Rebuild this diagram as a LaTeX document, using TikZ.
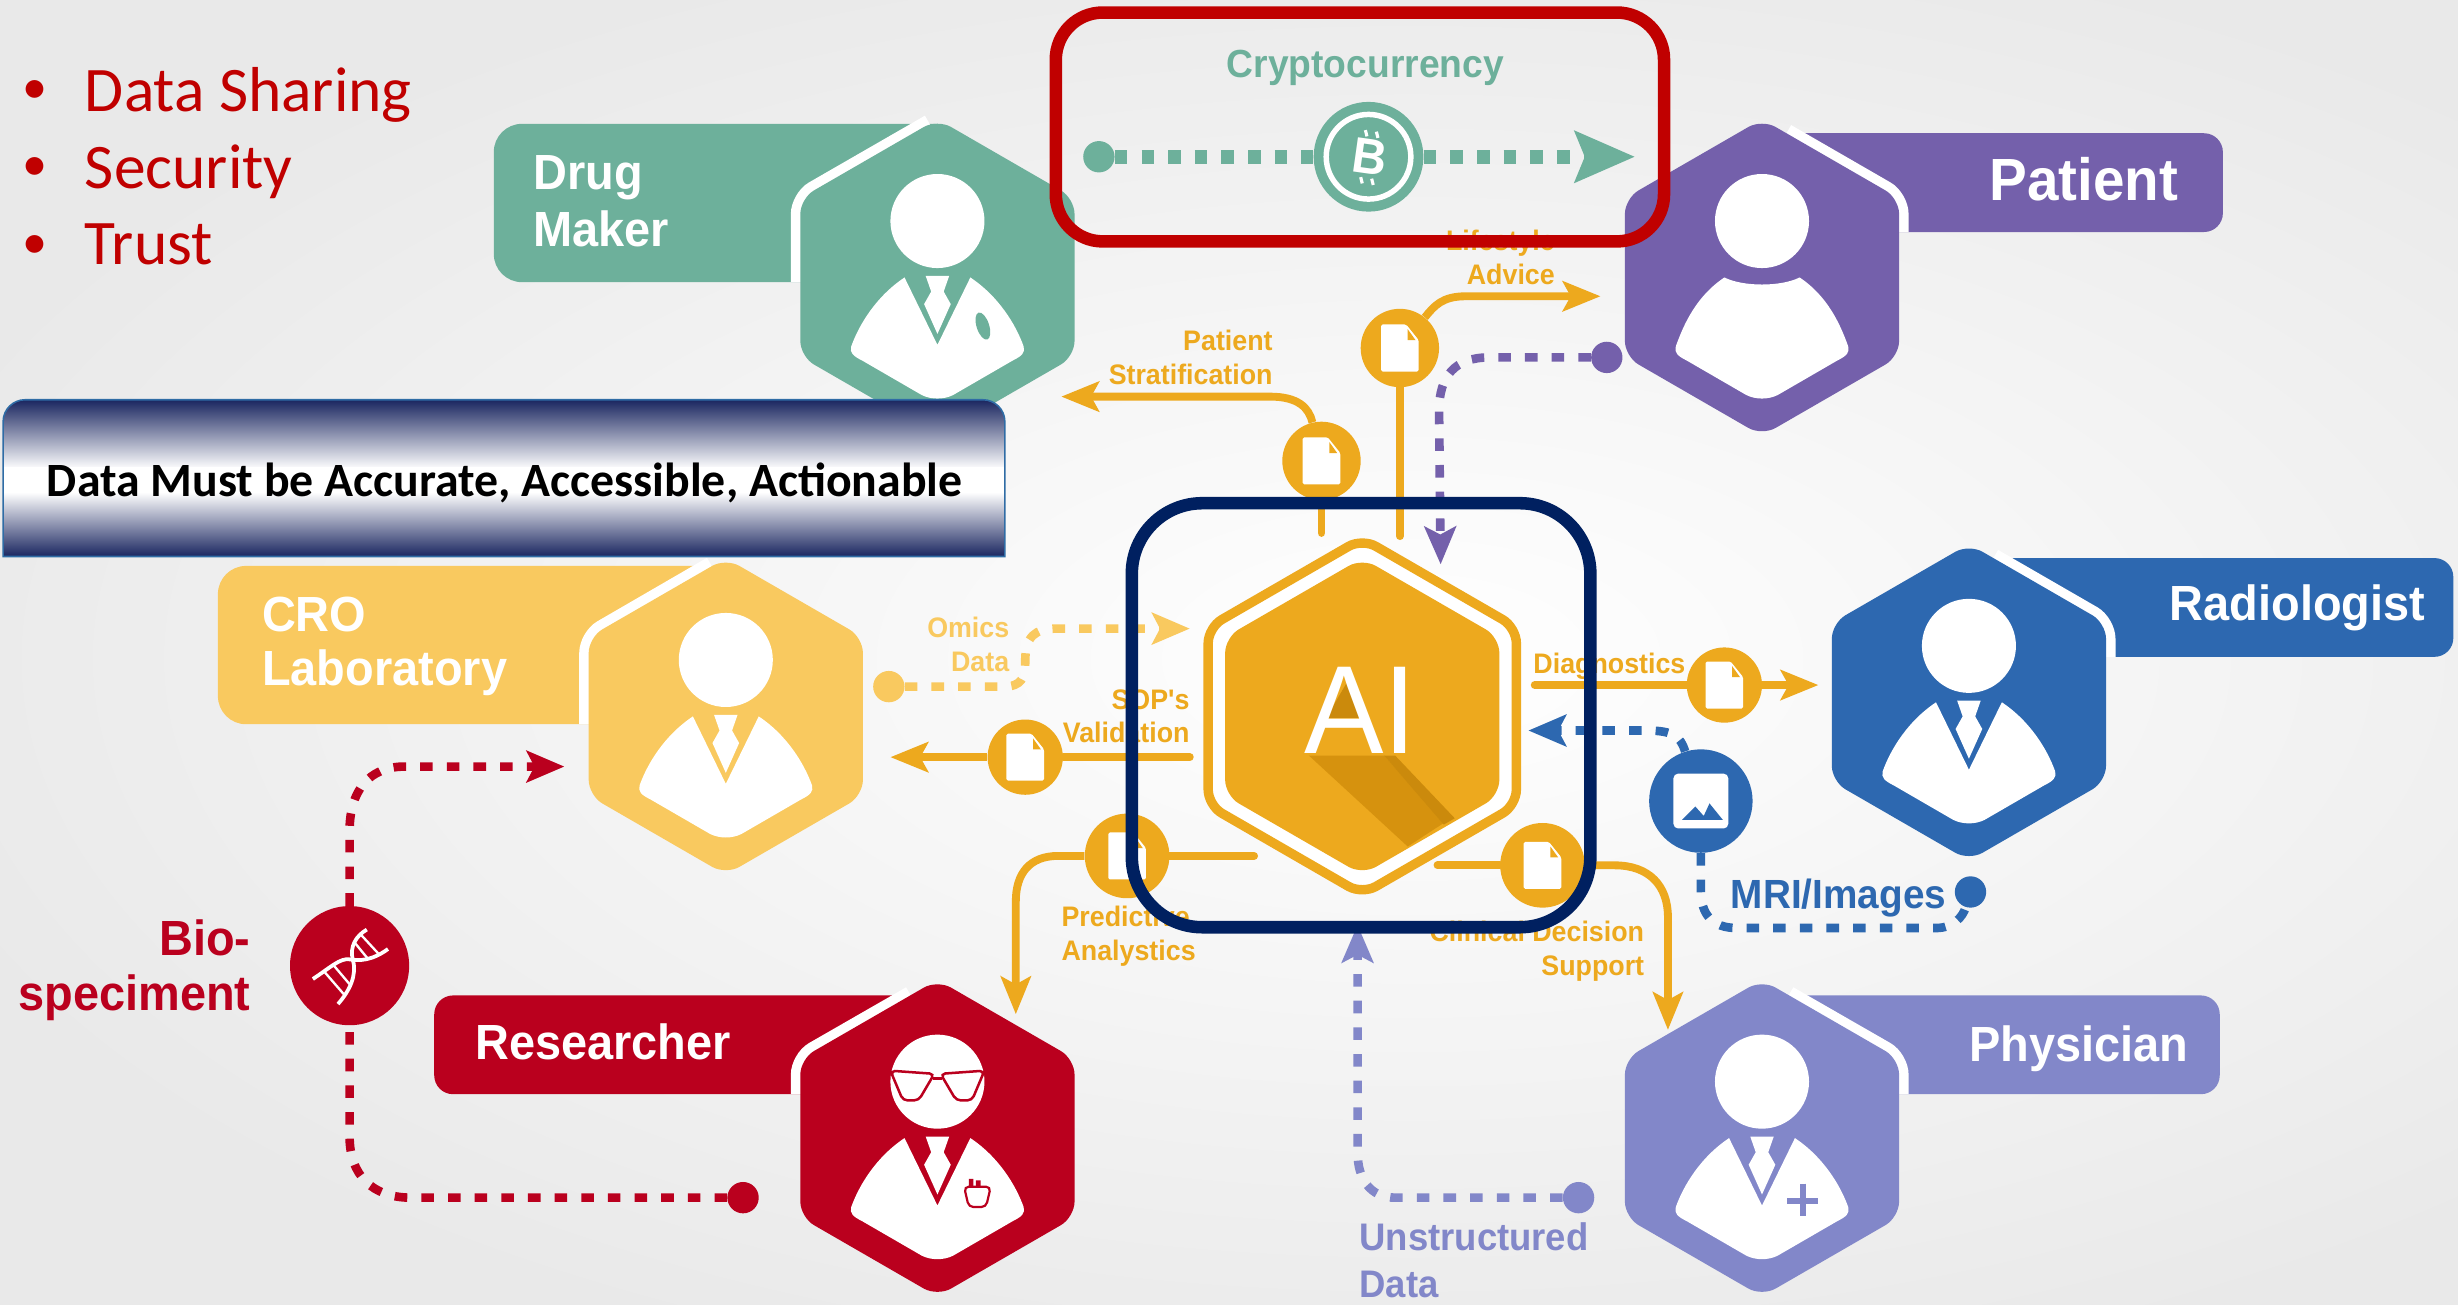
\documentclass[tikz,border=0pt]{standalone}
\usepackage{fontspec}
\setmainfont{Carlito}
\newfontfamily\labelfont[FakeStretch=0.95]{Liberation Sans}
\usetikzlibrary{arrows.meta,shapes.geometric}

\definecolor{drugcolor}{HTML}{6DB09B}
\definecolor{patientcolor}{HTML}{7460AB}
\definecolor{radiocolor}{HTML}{2D68B0}
\definecolor{physiciancolor}{HTML}{8287C9}
\definecolor{researchcolor}{HTML}{BA001E}
\definecolor{crocolor}{HTML}{F9C95F}
\definecolor{aicolor}{HTML}{EDA91E}
\definecolor{aishade}{HTML}{D6920E}
\definecolor{aidark}{HTML}{CB8A0C}
\definecolor{bgedge}{HTML}{E9E9E9}
\definecolor{cryptored}{HTML}{C00000}
\definecolor{framenavy}{HTML}{002060}
\definecolor{barnavy}{HTML}{1A2660}
\definecolor{barline}{HTML}{2F6CA5}

% head and coat, origin at the middle of the hexagon
\newcommand{\doctorbody}[1]{
  \begin{scope}[shift={(#1)}]
    \fill[white] (0,-36) ellipse (30pt and 30pt);
    \fill[white] (-21,0) .. controls (-39,12) and (-50,30) .. (-55,44) .. controls (-56,48) and (-54,50) .. (-48,53) -- (-10,75) .. controls (-4,78) and (4,78) .. (10,75) -- (48,53) .. controls (54,50) and (56,48) .. (55,44) .. controls (50,30) and (39,12) .. (21,0) -- (0,43) -- cycle;
    \fill[white] (-7.5,-1) -- (7.5,-1) -- (4,9) -- (8.5,17) -- (0,36) -- (-8.5,17) -- (-4,9) -- cycle;
  \end{scope}
}
\newcommand{\patientbody}[1]{
  \begin{scope}[shift={(#1)}]
    \fill[white] (0,-36) ellipse (30pt and 30pt);
    \fill[white] (-24,0) .. controls (-12,6) and (12,6) .. (24,0) .. controls (42,12) and (50,30) .. (55,44) .. controls (56,48) and (54,50) .. (48,53) -- (10,75) .. controls (4,78) and (-4,78) .. (-10,75) -- (-48,53) .. controls (-54,50) and (-56,48) .. (-55,44) .. controls (-50,30) and (-42,12) .. (-24,0) -- cycle;
  \end{scope}
}
\newcommand{\docicon}[1]{
  \begin{scope}[shift={(#1)}]
    \fill[white,rounded corners=1pt] (-12,-15) -- (4,-15) -- (12,-5) -- (12,15) -- (-12,15) -- cycle;
    \fill[aicolor] (5,-12) -- (10,-5) -- (5,-5) -- cycle;
  \end{scope}
}

\begin{document}
\begin{tikzpicture}[x=1pt,y=-1pt]
        \tikzstyle{hexnode}=[regular polygon,regular polygon sides=6,shape border rotate=30,minimum size=202pt,inner sep=0pt,rounded corners=10pt]
        \tikzstyle{gapline}=[white,line width=12pt,rounded corners=10pt]
        \tikzstyle{filenode}=[circle,fill=aicolor,minimum size=50pt,inner sep=0pt]
        \tikzstyle{dotnode}=[circle,minimum size=20pt,inner sep=0pt]
        \tikzstyle{tagtext}=[text=white,inner sep=0pt,anchor=base west,font=\labelfont\bfseries\fontsize{31.5}{36}\selectfont]
        \tikzstyle{flowtext}=[inner sep=0pt,font=\labelfont\bfseries\fontsize{18}{21.5}\selectfont]
        \tikzstyle{bullettext}=[text=cryptored,inner sep=0pt,anchor=base west,font=\fontsize{40.5}{44}\selectfont]
        \tikzstyle{bulletmark}=[text=cryptored,inner sep=0pt,anchor=base west,font=\fontsize{32}{36}\selectfont]
        \tikzstyle{solidlink}=[line width=5pt,-{Stealth[length=24pt,width=19pt,inset=5pt]}]
        \tikzstyle{solidstem}=[line width=5pt,line cap=round]
        \tikzstyle{dashlink}=[line width=5.5pt,dash pattern=on 8pt off 9pt]
        \tikzstyle{dashtip}=[-{Stealth[length=24pt,width=20pt,inset=5pt]}]

        \clip (0,0) rectangle (1568,832);
        \fill[inner color=white,outer color=bgedge] (-100,-60) rectangle (1900,900);

        % tags behind the hexagons
        \fill[drugcolor] (598,79) [rounded corners=18pt] -- (315,79) -- (315,180) [sharp corners] -- (598,180) -- cycle;
        \fill[patientcolor] (1124,85) [rounded corners=12pt] -- (1418,85) -- (1418,148) [sharp corners] -- (1124,148) -- cycle;
        \fill[crocolor] (463,361) [rounded corners=18pt] -- (139,361) -- (139,462) [sharp corners] -- (463,462) -- cycle;
        \fill[radiocolor] (1256,356) [rounded corners=12pt] -- (1565,356) -- (1565,419) [sharp corners] -- (1256,419) -- cycle;
        \fill[researchcolor] (598,635) [rounded corners=12pt] -- (277,635) -- (277,698) [sharp corners] -- (598,698) -- cycle;
        \fill[physiciancolor] (1124,635) [rounded corners=12pt] -- (1416,635) -- (1416,698) [sharp corners] -- (1124,698) -- cycle;

        \draw[gapline] (593,79) -- (510.5,126.5) -- (510.5,180);
        \draw[gapline] (1139.6,85) -- (1211.5,126.5) -- (1211.5,148);
        \draw[gapline] (454,361) -- (375.5,406.5) -- (375.5,462);
        \draw[gapline] (1271.6,356) -- (1343.5,397.5) -- (1343.5,419);
        \draw[gapline] (581,635) -- (510.5,675.5) -- (510.5,698);
        \draw[gapline] (1141,635) -- (1211.5,675.5) -- (1211.5,698);

        \node[hexnode,fill=drugcolor] (drughex) at (598,177) {};
        \node[hexnode,fill=patientcolor] (patienthex) at (1124,177) {};
        \node[hexnode,fill=crocolor] (crohex) at (463,457) {};
        \node[hexnode,fill=radiocolor] (radiohex) at (1256,448) {};
        \node[hexnode,fill=researchcolor] (researchhex) at (598,726) {};
        \node[hexnode,fill=physiciancolor] (physicianhex) at (1124,726) {};

        \doctorbody{drughex}
        \patientbody{patienthex}
        \doctorbody{crohex}
        \doctorbody{radiohex}
        \doctorbody{researchhex}
        \doctorbody{physicianhex}

        \fill[drugcolor,rotate around={18:(627,208)}] (627,208) ellipse (4pt and 9pt);
        \draw[physiciancolor,line width=4pt] (1150,755) -- (1150,776) (1140,766) -- (1160,766);
        \begin{scope}[shift={(researchhex)}]
            \draw[researchcolor,line width=1.6pt,rounded corners=3pt] (-30,-43) -- (-2,-41) -- (-12,-24) -- (-22,-24) -- cycle;
            \draw[researchcolor,line width=1.6pt,rounded corners=3pt] (30,-43) -- (2,-41) -- (12,-24) -- (22,-24) -- cycle;
            \draw[researchcolor,line width=1.6pt] (-3,-38) -- (3,-38);
            \draw[researchcolor,line width=1.4pt,rounded corners=3pt] (17,31) -- (34,31) -- (31,44) -- (20,44) -- cycle;
            \fill[researchcolor] (20,26) rectangle (23,31) (24.5,27) rectangle (27.5,31);
        \end{scope}

        % centre hexagon
        \node[hexnode,minimum size=227pt,draw=aicolor,fill=white,line width=6pt] (aiframe) at (869,457) {};
        \node[hexnode,fill=aicolor] (aihex) at (869,457) {};
        \fill[aishade] (835,482) -- (898,540) -- (921,525) -- (883,482) -- cycle;
        \fill[aidark] (890,482) -- (928,522) -- (921,526) -- (883,482) -- cycle;
        \fill[aidark] (860,434) -- (846,458) -- (868,458) -- cycle;
        \node[text=white,inner sep=0pt,font=\labelfont\fontsize{80}{80}\selectfont] (ailabel) at (868,453) {AI};

        % free ends
        \coordinate (cryptoend) at (1043,100);
        \coordinate (stratend) at (677,253);
        \coordinate (stratstart) at (843,340);
        \coordinate (lifeend) at (1021,189);
        \coordinate (lifestart) at (893,342);
        \coordinate (patientend) at (919,360);
        \coordinate (diagstart) at (979,437);
        \coordinate (diagend) at (1160,437);
        \coordinate (sopstart) at (759,483);
        \coordinate (sopend) at (568,483);
        \coordinate (omicsend) at (759,401);
        \coordinate (predstart) at (800,546);
        \coordinate (predend) at (648,647);
        \coordinate (clinstart) at (917,552);
        \coordinate (clinend) at (1064,657);
        \coordinate (mriend) at (975,466);
        \coordinate (unstructend) at (866,590);
        \coordinate (bioend) at (360,489);

        % nodes on the connectors
        \node[filenode] (stratdoc) at (843,294) {};
        \node[filenode] (lifedoc) at (893,222) {};
        \node[filenode,minimum size=48pt] (diagdoc) at (1100,437) {};
        \node[filenode,minimum size=48pt] (sopdoc) at (654,483) {};
        \node[filenode,minimum size=54pt] (preddoc) at (719,546) {};
        \node[filenode,minimum size=54pt] (clindoc) at (984,552) {};
        \node[circle,fill=radiocolor,minimum size=66pt,inner sep=0pt] (mricircle) at (1085,511) {};
        \node[circle,fill=researchcolor,minimum size=76pt,inner sep=0pt] (biocircle) at (223,616) {};
        \node[circle,fill=drugcolor,minimum size=70pt,inner sep=0pt] (coin) at (873,100) {};
        \node[dotnode,fill=drugcolor] (cryptodot) at (701,100) {};
        \node[dotnode,fill=patientcolor] (patientdot) at (1025,228) {};
        \node[dotnode,fill=crocolor] (omicsdot) at (567,438) {};
        \node[dotnode,fill=radiocolor] (mridot) at (1257,569) {};
        \node[dotnode,fill=physiciancolor] (unstructdot) at (1007,764) {};
        \node[dotnode,fill=researchcolor] (biodot) at (474,764) {};

        % connectors
        \draw[dashlink,drugcolor,line width=9pt] (cryptodot) -- (coin);
        \draw[dashlink,drugcolor,line width=9pt,-{Stealth[length=38pt,width=32pt,inset=6pt]}] (coin) -- (cryptoend);
        \draw[solidstem,aicolor] (stratstart) -- (stratdoc);
        \draw[solidlink,aicolor] (stratdoc) .. controls (835,260) and (828,253) .. (810,253) -- (stratend);
        \draw[solidstem,aicolor] (lifestart) -- (lifedoc);
        \draw[solidlink,aicolor] (lifedoc) .. controls (915,195) and (920,189) .. (935,189) -- (lifeend);
        \draw[dashlink,dashtip,patientcolor] (patientdot) -- (950,228) .. controls (928,228) and (918,240) .. (918,262) -- (patientend);
        \draw[solidstem,aicolor] (diagstart) -- (diagdoc);
        \draw[solidlink,aicolor] (diagdoc) -- (diagend);
        \draw[solidstem,aicolor] (sopstart) -- (sopdoc);
        \draw[solidlink,aicolor] (sopdoc) -- (sopend);
        \draw[dashlink,dashtip,crocolor] (omicsdot) -- (640,438) .. controls (652,438) and (654,432) .. (654,422) .. controls (654,406) and (660,401) .. (674,401) -- (omicsend);
        \draw[solidstem,aicolor] (predstart) -- (preddoc);
        \draw[solidlink,aicolor] (preddoc) -- (675,546) .. controls (657,546) and (648,557) .. (648,575) -- (predend);
        \draw[solidstem,aicolor] (clinstart) -- (clindoc);
        \draw[solidlink,aicolor] (clindoc) -- (1030,552) .. controls (1052,552) and (1064,565) .. (1064,585) -- (clinend);
        \draw[dashlink,dashtip,radiocolor] (mricircle) .. controls (1072,470) and (1068,466) .. (1050,466) -- (mriend);
        \draw[dashlink,radiocolor] (mricircle) -- (1085,568) .. controls (1085,583) and (1092,592) .. (1108,592) -- (1235,592) .. controls (1246,592) and (1252,585) .. (mridot);
        \draw[dashlink,dashtip,physiciancolor] (unstructdot) -- (890,764) .. controls (874,764) and (866,752) .. (866,735) -- (unstructend);
        \draw[dashlink,researchcolor] (biodot) -- (262,764) .. controls (238,764) and (223,750) .. (223,725) -- (biocircle);
        \draw[dashlink,dashtip,researchcolor] (biocircle) -- (223,530) .. controls (223,505) and (235,489) .. (258,489) -- (bioend);

        \docicon{stratdoc}
        \docicon{lifedoc}
        \docicon{diagdoc}
        \docicon{sopdoc}
        \docicon{preddoc}
        \docicon{clindoc}

        % picture in the blue circle
        \begin{scope}[shift={(mricircle)}]
            \fill[white,rounded corners=3pt] (-17.5,-17.5) rectangle (17.5,17.5);
            \fill[radiocolor] (-12,12) -- (-3.5,3.5) -- (4,12) -- cycle (0.7,12) -- (5.5,1.5) -- (14,12) -- cycle;
        \end{scope}

        % helix in the red circle
        \begin{scope}[shift={(biocircle)}]
            \draw[white,line width=2.4pt] (-23.4,8.5) .. controls (-12,1) and (-6,-5) .. (0,-4) .. controls (6,-3) and (14,-3) .. (24.5,-10.6);
            \draw[white,line width=2.4pt] (-7.4,24.5) .. controls (0,16) and (5,6) .. (2,-4) .. controls (0,-12) and (4,-19) .. (11,-23);
            \draw[white,line width=1.5pt] (-16,4) -- (-3,19) (-10,0) -- (1,13) (3,-15) -- (12,-4) (7,-20) -- (19,-7);
        \end{scope}

        % coin
        \draw[white,line width=3.5pt] (coin.center) circle (27pt);
        \node[text=white,inner sep=0pt,rotate=-8,font=\labelfont\bfseries\fontsize{32}{32}\selectfont] (coinmark) at (874,100) {B};
        \draw[white,line width=2pt] (871,83) -- (872,87) (878,84) -- (879,88) (868,113) -- (869,117) (875,114) -- (876,118);

        % names on the tags
        \node[tagtext] (drugname) at (340,121) {Drug};
        \node[tagtext] (makername) at (340,157) {Maker};
        \node[tagtext,font=\labelfont\bfseries\fontsize{38}{40}\selectfont] (patientname) at (1269,128) {Patient};
        \node[tagtext] (croname) at (167,403) {CRO};
        \node[tagtext] (labname) at (167,437) {Laboratory};
        \node[tagtext] (radioname) at (1384,396) {Radiologist};
        \node[tagtext] (researchname) at (303,676) {Researcher};
        \node[tagtext] (physicianname) at (1256,677) {Physician};

        % labels of the flows
        \node[flowtext,text=drugcolor,font=\labelfont\bfseries\fontsize{25}{25}\selectfont] (cryptolabel) at (871,43) {Cryptocurrency};
        \node[flowtext,text=aicolor,anchor=east,align=right] (stratlabel) at (812,228) {Patient\\Stratification};
        \node[flowtext,text=aicolor,anchor=east,align=right] (lifelabel) at (992,164) {Lifestyle\\Advice};
        \node[flowtext,text=crocolor,anchor=east,align=right] (omicslabel) at (644,411) {Omics\\Data};
        \node[flowtext,text=aicolor,anchor=east,align=right] (soplabel) at (759,457) {SOP's\\Validation};
        \node[flowtext,text=aicolor,anchor=west] (diaglabel) at (978,425) {Diagnostics};
        \node[flowtext,text=aicolor,anchor=west,align=left] (predlabel) at (677,597) {Predictive\\Analystics};
        \node[flowtext,text=aicolor,anchor=east,align=right] (clinlabel) at (1049,607) {Clinical Decision\\Support};
        \node[flowtext,text=radiocolor,anchor=west,font=\labelfont\bfseries\fontsize{26}{26}\selectfont] (mrilabel) at (1104,573) {MRI/Images};
        \node[flowtext,text=physiciancolor,anchor=west,align=left,font=\labelfont\bfseries\fontsize{24.5}{30}\selectfont] (unstructlabel) at (867,804) {Unstructured\\Data};
        \node[flowtext,text=researchcolor,anchor=east,align=right,font=\labelfont\bfseries\fontsize{31.5}{35}\selectfont] (biolabel) at (160,619) {Bio-\\speciment};

        % bullets
        \node[bulletmark] (bulleta) at (14,66) {•};
        \node[bullettext] (sharing) at (54,71) {Data Sharing};
        \node[bulletmark] (bulletb) at (14,115) {•};
        \node[bullettext] (security) at (54,120) {Security};
        \node[bulletmark] (bulletc) at (14,165) {•};
        \node[bullettext] (trust) at (54,169) {Trust};

        % banner and the two frames on top
        \shade[top color=barnavy,bottom color=white] (2,299) [rounded corners=14pt] -- (2,255) -- (641,255) [sharp corners] -- (641,299) -- cycle;
        \fill[white] (2,298) rectangle (641,315);
        \shade[top color=white,bottom color=barnavy] (2,314) rectangle (641,355);
        \draw[barline,line width=1pt] (2,355) [rounded corners=14pt] -- (2,255) -- (641,255) [sharp corners] -- (641,355) -- cycle;
        \node[inner sep=0pt,font=\bfseries\fontsize{30.5}{32}\selectfont] (bannertext) at (322,308) {Data Must be Accurate, Accessible, Actionable};
        \draw[cryptored,line width=8pt,rounded corners=30pt] (673.5,8) rectangle (1061.5,154);
        \draw[framenavy,line width=8pt,rounded corners=45pt] (722,321) rectangle (1014.5,591.5);
\end{tikzpicture}
\end{document}
